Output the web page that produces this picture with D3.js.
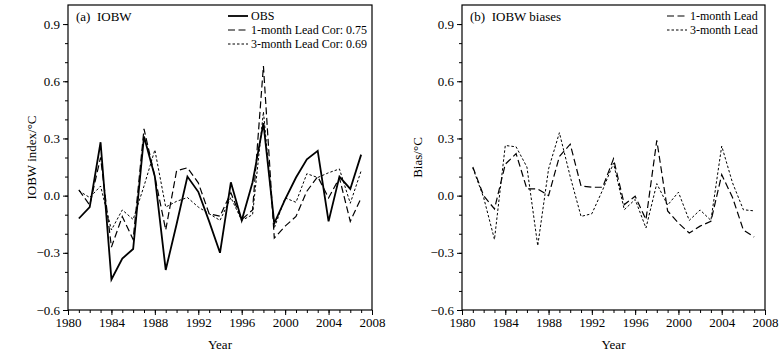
<!DOCTYPE html>
<html>
<head>
<meta charset="utf-8">
<script src="https://cdn.jsdelivr.net/npm/d3@7"></script>
<style>
  body { margin: 0; background: #fff; }
  svg { display: block; font-family: "Liberation Serif", "DejaVu Serif", serif; }
</style>
</head>
<body>
<div id="chart"></div>
<script>
// years and series
const years = [1981, 1982, 1983, 1984, 1985, 1986, 1987, 1988, 1989, 1990, 1991, 1992, 1993, 1994,
  1995, 1996, 1997, 1998, 1999, 2000, 2001, 2002, 2003, 2004, 2005, 2006, 2007];

const obs = [-0.12, -0.06, 0.28, -0.44, -0.33, -0.28, 0.31, 0.10, -0.39, -0.15, 0.10, 0.02, -0.135, -0.30,
  0.07, -0.13, 0.07, 0.38, -0.145, -0.02, 0.095, 0.19, 0.235, -0.135, 0.10, 0.035, 0.215];
const lead1 = [0.03, -0.05, 0.20, -0.27, -0.11, -0.23, 0.35, 0.10, -0.18, 0.13, 0.146, 0.067, -0.095, -0.108,
  0.015, -0.126, -0.075, 0.68, -0.223, -0.16, -0.109, 0.023, 0.10, -0.012, 0.093, -0.135, -0.012];
const lead3 = [0.025, -0.01, 0.05, -0.18, -0.075, -0.125, 0.05, 0.24, -0.06, -0.03, -0.01, -0.06, -0.095, -0.13,
  -0.01, -0.13, -0.10, 0.44, -0.17, -0.012, -0.035, 0.115, 0.095, 0.12, 0.14, -0.04, 0.13];

const bias1 = [0.15, 0.0, -0.07, 0.165, 0.22, 0.035, 0.035, 0.0, 0.205, 0.27, 0.05, 0.044, 0.044, 0.193,
  -0.047, -0.003, -0.126, 0.29, -0.08, -0.144, -0.196, -0.16, -0.135, 0.11, -0.01, -0.18, -0.217];
const bias3 = [0.145, -0.01, -0.23, 0.263, 0.256, 0.15, -0.263, 0.14, 0.33, 0.10, -0.109, -0.095, 0.03, 0.17,
  -0.074, -0.02, -0.17, 0.063, -0.05, 0.018, -0.13, -0.075, -0.13, 0.26, 0.067, -0.074, -0.08];

const xMajor = [1980, 1984, 1988, 1992, 1996, 2000, 2004, 2008];
const yMajor = [-0.6, -0.3, 0.0, 0.3, 0.6, 0.9];

const W = 781, H = 354;
const plotTop = 5, plotBottom = 310;

const svg = d3.select("#chart").append("svg")
  .attr("width", W)
  .attr("height", H);

const fmt = v => (v < 0 ? "\u2212" : "") + Math.abs(v).toFixed(1);

const styles = {
  obs: { width: 1.8, dash: null },
  lead1: { width: 1.2, dash: "7,3.5" },
  lead3: { width: 1, dash: "2.5,2" }
};

function panel(x0, x1, opts) {
  const x = d3.scaleLinear().domain([1980, 2008]).range([x0, x1]);
  const y = d3.scaleLinear().domain([-0.6, 1.0]).range([plotBottom, plotTop]);
  const g = svg.append("g");

  // minor ticks
  g.append("g")
    .attr("transform", `translate(0,${plotBottom})`)
    .call(d3.axisBottom(x).tickValues(d3.range(1980, 2009)).tickSize(3).tickFormat(""))
    .call(a => a.select(".domain").remove());
  g.append("g")
    .attr("transform", `translate(${x0},0)`)
    .call(d3.axisLeft(y).tickValues(d3.range(-6, 10).map(d => d / 10)).tickSize(3).tickFormat(""))
    .call(a => a.select(".domain").remove());

  // major ticks + labels
  g.append("g")
    .attr("transform", `translate(0,${plotBottom})`)
    .call(d3.axisBottom(x).tickValues(xMajor).tickSize(5).tickPadding(3).tickFormat(d3.format("d")))
    .call(a => a.select(".domain").remove())
    .call(a => a.selectAll("text").attr("font-size", 13).attr("font-family", "Liberation Serif").attr("fill", "#000"));
  g.append("g")
    .attr("transform", `translate(${x0},0)`)
    .call(d3.axisLeft(y).tickValues(yMajor).tickSize(5).tickPadding(3).tickFormat(fmt))
    .call(a => a.select(".domain").remove())
    .call(a => a.selectAll("text").attr("font-size", 13).attr("font-family", "Liberation Serif").attr("fill", "#000"));

  g.selectAll(".tick line").attr("stroke", "#000");

  // frame
  g.append("rect")
    .attr("x", x0).attr("y", plotTop)
    .attr("width", x1 - x0).attr("height", plotBottom - plotTop)
    .attr("fill", "none").attr("stroke", "#000").attr("stroke-width", 1.2);

  const line = d3.line()
    .x((d, i) => x(years[i]))
    .y(d => y(d));

  opts.series.forEach(s => {
    g.append("path")
      .datum(s.values)
      .attr("d", line)
      .attr("fill", "none")
      .attr("stroke", "#000")
      .attr("stroke-width", styles[s.style].width)
      .attr("stroke-dasharray", styles[s.style].dash)
      .attr("stroke-linejoin", "miter");
  });

  // panel label
  g.append("text")
    .attr("x", x0 + 8).attr("y", plotTop + 16)
    .attr("font-size", 13)
    .style("white-space", "pre")
    .text(opts.title);

  // legend
  const lg = g.append("g").attr("transform", `translate(${opts.legendX},0)`);
  opts.series.filter(s => s.label).forEach((s, i) => {
    const ly = 16 + i * 14;
    lg.append("line")
      .attr("x1", 0).attr("x2", 20)
      .attr("y1", ly).attr("y2", ly)
      .attr("stroke", "#000")
      .attr("stroke-width", styles[s.style].width)
      .attr("stroke-dasharray", styles[s.style].dash);
    lg.append("text")
      .attr("x", 23).attr("y", ly + 4)
      .attr("font-size", 12)
      .text(s.label);
  });

  // axis titles
  g.append("text")
    .attr("x", (x0 + x1) / 2).attr("y", 349)
    .attr("text-anchor", "middle")
    .attr("font-size", 13)
    .text("Year");
  g.append("text")
    .attr("transform", `translate(${opts.yTitleX},${(plotTop + plotBottom) / 2}) rotate(-90)`)
    .attr("text-anchor", "middle")
    .attr("font-size", 13)
    .text(opts.yTitle);
}

panel(68, 372, {
  title: "(a)  IOBW",
  yTitle: "IOBW index/\u00B0C",
  yTitleX: 36,
  legendX: 228,
  series: [
    { values: obs, style: "obs", label: "OBS" },
    { values: lead1, style: "lead1", label: "1-month Lead Cor: 0.75" },
    { values: lead3, style: "lead3", label: "3-month Lead Cor: 0.69" }
  ]
});

panel(462, 765, {
  title: "(b)  IOBW biases",
  yTitle: "Bias/\u00B0C",
  yTitleX: 422,
  legendX: 667,
  series: [
    { values: bias1, style: "lead1", label: "1-month Lead" },
    { values: bias3, style: "lead3", label: "3-month Lead" }
  ]
});
</script>
</body>
</html>
